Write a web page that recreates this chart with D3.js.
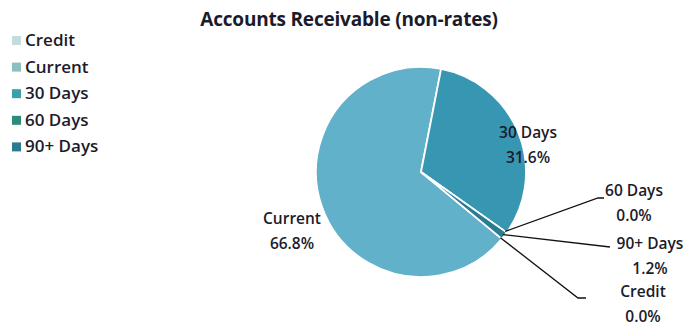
<!DOCTYPE html>
<html><head><meta charset="utf-8">
<script src="https://cdn.jsdelivr.net/npm/d3@7"></script>
<style>
body{margin:0;background:#fff;}
text{font-family:"Open Sans","Noto Sans",sans-serif;fill:#1b1b2b;}
</style></head>
<body>
<svg id="c" width="689" height="326"></svg>
<script>
const categories = ["Credit","Current","30 Days","60 Days","90+ Days"];
const values = [0.0, 66.8, 31.6, 0.0, 1.2];
const pctLabels = ["0.0%","66.8%","31.6%","0.0%","1.2%"];
const pieColors = ["#b9d6dc","#62b1cb","#3796b1","#2d8a80","#2b7c93"];
const legendColors = ["#c3dcdc","#8dbfbf","#3aa0aa","#2e8a79","#2a7b90"];
const title = "Accounts Receivable (non-rates)";

const svg = d3.select("#c");
const cx = 421, cy = 172, r = 105;

svg.append("text").attr("x", 349).attr("y", 26).attr("text-anchor","middle")
  .attr("font-size", 19).attr("font-weight","bold").attr("letter-spacing","-0.2")
  .text(title);

const data = categories.map((c,i)=>({cat:c, v:values[i], lab:pctLabels[i], i}));
const startDeg = 129.6;
const pie = d3.pie().value(d=>d.v).sort(null)
  .startAngle(startDeg*Math.PI/180).endAngle((startDeg+360)*Math.PI/180);
const arcs = pie(data);
const arc = d3.arc().innerRadius(0).outerRadius(r);

const g = svg.append("g").attr("transform",`translate(${cx},${cy})`);
g.selectAll("path").data(arcs).enter().append("path")
  .attr("d", arc).attr("fill", d=>pieColors[d.data.i])
  .attr("stroke","#fff").attr("stroke-width",1.8).attr("stroke-linejoin","round");

// labels
const labelPos = {
  "Current": {x:292, y:224, line:null},
  "30 Days": {x:528, y:138, line:null},
  "60 Days": {x:634, y:196, line:[[598,198],[604,198]]},
  "90+ Days": {x:650, y:249, line:[[610,247]]},
  "Credit": {x:643, y:297, line:[[578,298],[586,298]]}
};
arcs.forEach(a=>{
  const p = labelPos[a.data.cat];
  const mid = (a.startAngle + a.endAngle)/2;
  if (p.line) {
    const sx = Math.sin(mid)*(r-2), sy = -Math.cos(mid)*(r-2);
    const pts = [[cx+sx, cy+sy]].concat(p.line);
    svg.append("path").attr("d", d3.line()(pts)).attr("fill","none")
      .attr("stroke","#111").attr("stroke-width",1.3);
  }
  const t = svg.append("text").attr("x",p.x).attr("y",p.y).attr("text-anchor","middle")
    .attr("font-size",15.5).attr("font-weight",600);
  t.append("tspan").attr("x",p.x).attr("dy",0).text(a.data.cat);
  t.append("tspan").attr("x",p.x).attr("dy",25).text(a.data.lab);
});

// legend
const lg = svg.append("g");
categories.forEach((c,i)=>{
  const y = 40 + i*26.6;
  lg.append("rect").attr("x",12).attr("y",y-4).attr("width",9).attr("height",9)
    .attr("fill",legendColors[i]);
  lg.append("text").attr("x",25).attr("y",y+6).attr("font-size",17).attr("font-weight",600).text(c);
});
</script>
</body></html>
